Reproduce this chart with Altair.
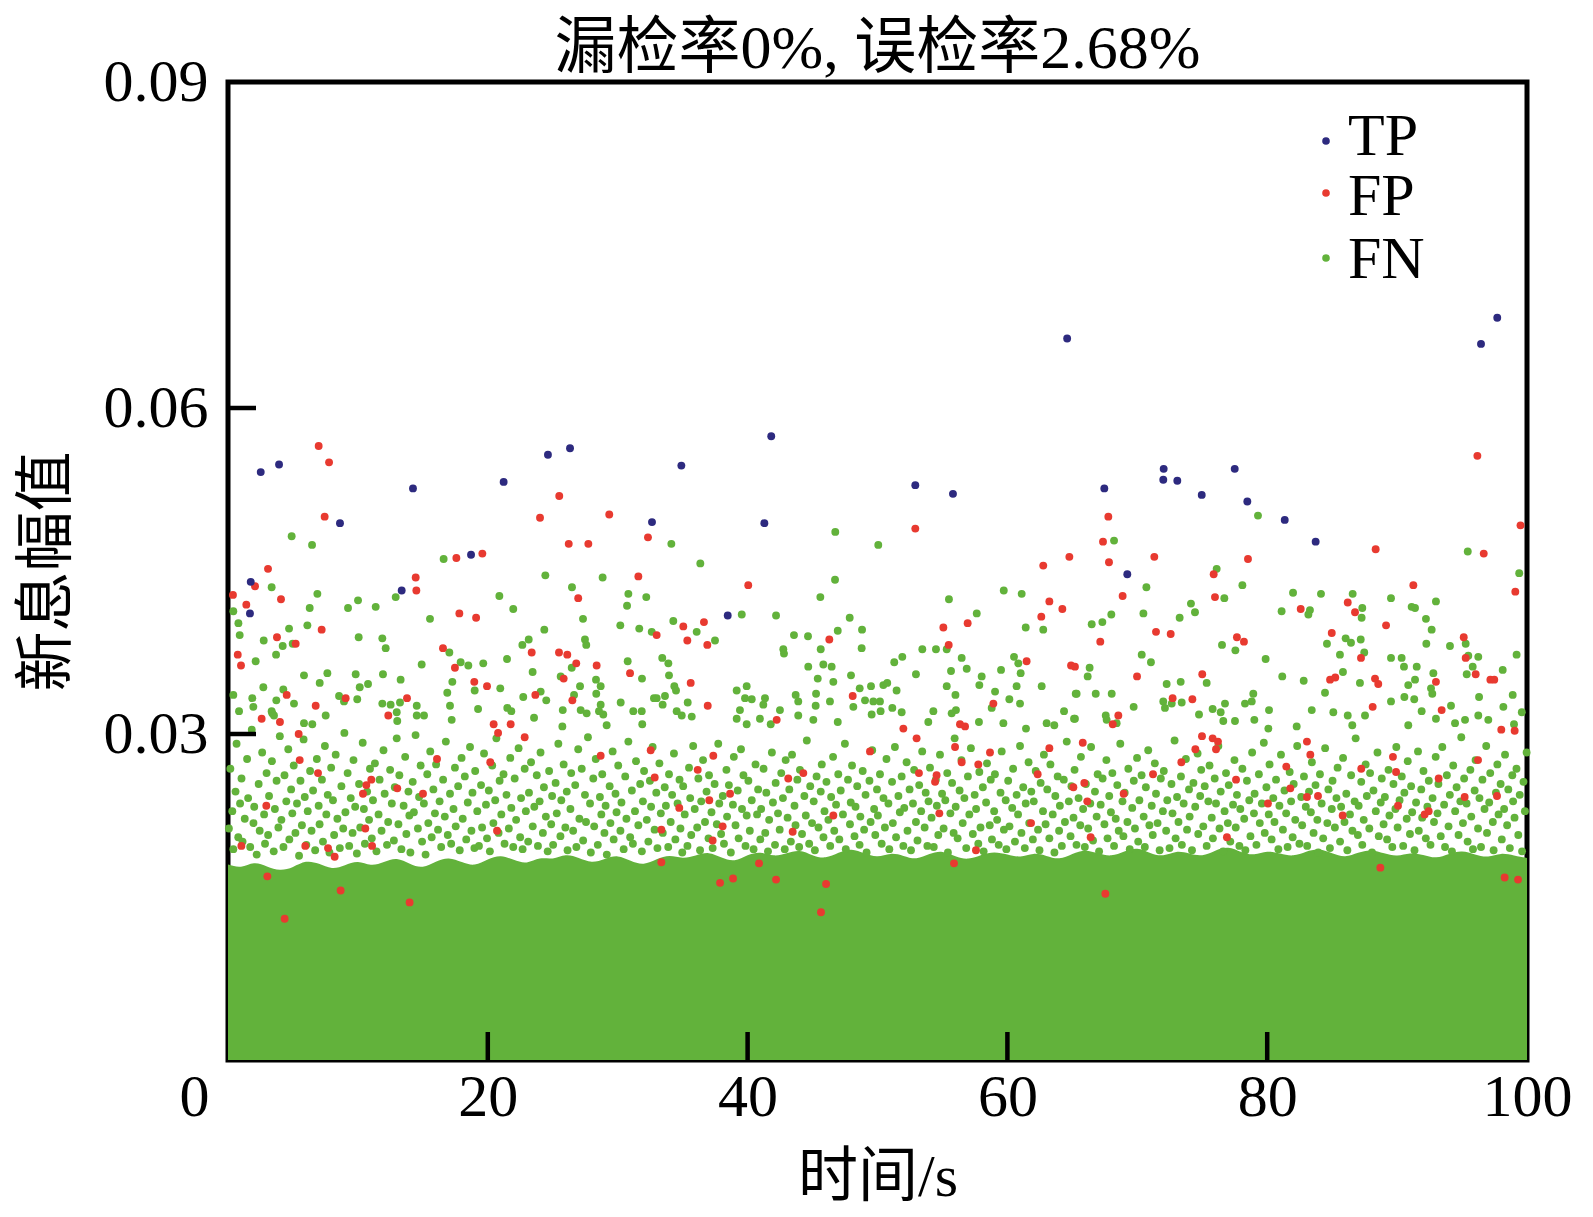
import altair as alt
import pandas as pd

# ---------------- data ----------------
title_text = "漏检率0%, 误检率2.68%"
x_title = "时间/s"
y_title = "新息幅值"
classes = ["TP", "FP", "FN"]
class_colors = ["#2d2a7f", "#e83a30", "#62b23b"]
x_tick_labels = [0, 20, 40, 60, 80, 100]
y_tick_labels = [0.03, 0.06, 0.09]
x_inner_ticks = [20, 40, 60, 80]
y_inner_ticks = [0.03, 0.06]

# TP points (time s, value)
tp_pts = [(2.52,.0541),(3.93,.0548),(14.24,.0526),(8.62,.0494),(21.22,.0532),(24.63,.0557),
          (26.33,.0563),(32.64,.0495),(18.71,.0465),(1.75,.0440),(13.37,.0432),(1.69,.0411),
          (41.82,.0574),(34.9,.0547),(41.29,.0494),(52.91,.0529),(55.81,.0521),(38.47,.0409),
          (97.71,.0683),(96.46,.0659),(72.03,.0544),(72.0,.0534),(73.08,.0533),(77.5,.0544),
          (67.46,.0526),(74.96,.0520),(78.47,.0514),(81.35,.0497),(83.73,.0477),(69.23,.0447),
          (64.6,.0664)]

# FP points
fp_a = [(6.98,.0565),(7.78,.0550),(7.44,.0500),(3.08,.0452),(2.08,.0436),(0.38,.0428),(1.41,.0419),
        (4.08,.0424),(7.21,.0396),(3.77,.0389),(5.21,.0383),(0.75,.0373),(1.0,.0363),(4.52,.0336),
        (6.75,.0326),(2.59,.0314),(4.0,.0311),(9.06,.0333),(14.45,.0444),(14.5,.0432),(17.58,.0462),
        (19.58,.0466),(17.81,.0411),(19.1,.0407),(16.55,.0379),(17.47,.0361),(18.96,.0348),(19.94,.0344),
        (13.78,.0333),(12.34,.0317),(20.45,.0309),(21.76,.0309),(25.5,.0519),(24.02,.0499),(29.35,.0502),
        (26.23,.0475),(27.74,.0475),(31.59,.0445),(32.33,.0481),(26.96,.0425),(23.38,.0375),(25.48,.0375),
        (26.12,.0373),(26.81,.0365),(28.38,.0363),(30.95,.0356),(25.84,.0351),(23.66,.0336),(26.51,.0331),
        (5.44,.0300),(5.52,.0276),(6.93,.0264),(11.03,.0258),(10.65,.0253),(10.39,.0245),(13.03,.0250),
        (15.01,.0245),(16.09,.0277),(20.19,.0274),(20.79,.0301),(22.84,.0297),(2.95,.0234),(10.57,.0213),
        (5.95,.0197),(7.7,.0195),(8.21,.0187),(1.03,.0197),(11.09,.0197),(3.03,.0169),(8.67,.0156),
        (13.98,.0145),(4.36,.0130),(28.69,.0280),(32.54,.0285),(32.85,.0260),(20.71,.0211),(33.36,.0212),
        (33.36,.0182)]
fp_b = [(52.91,.0489),(40.05,.0437),(62.76,.0455),(64.77,.0463),(63.23,.0422),(64.23,.0415),(62.61,.0408),
        (55.07,.0398),(56.94,.0402),(55.48,.0382),(35.05,.0399),(36.64,.0403),(35.36,.0386),(36.9,.0382),
        (33.0,.0391),(46.29,.0387),(35.62,.0347),(36.93,.0326),(48.09,.0335),(61.48,.0367),(64.9,.0363),
        (58.92,.0328),(42.24,.0313),(56.35,.0309),(51.99,.0305),
        (53.01,.0296),(56.74,.0307),(55.97,.0288),(58.66,.0283),(56.48,.0274),(57.76,.0272),(49.42,.0284),
        (37.36,.0280),(36.16,.0267),(43.13,.0259),(44.29,.0264),(53.19,.0264),(54.55,.0262),(54.43,.0256),
        (62.33,.0263),(63.23,.0287),(65.8,.0292),(65.08,.0251),(65.92,.0255),(66.15,.0238),(66.41,.0205),
        (37.05,.0239),(38.65,.0245),(34.74,.0232),(38.08,.0215),(37.31,.0202),(46.6,.0225),(43.47,.0210),
        (54.76,.0227),(61.82,.0218),(57.58,.0193),(55.89,.0181),(40.88,.0181),(38.88,.0167),(37.88,.0163),
        (42.19,.0166),(46.04,.0162),(45.65,.0136)]
fp_c = [(96.18,.0556),(67.77,.0500),(67.36,.0477),(67.82,.0458),(71.31,.0463),(78.52,.0461),(88.35,.0470),
        (96.67,.0466),(75.88,.0447),(68.87,.0427),(75.98,.0426),(91.25,.0437),(82.58,.0415),(86.2,.0421),
        (86.76,.0412),(89.15,.0400),(67.15,.0385),(71.44,.0394),(72.57,.0392),(77.67,.0389),(78.21,.0385),
        (84.97,.0393),(95.13,.0389),(87.22,.0370),(69.98,.0353),(75.0,.0355),(95.28,.0370),(96.05,.0355),
        (84.84,.0350),(85.24,.0352),(88.3,.0351),(88.55,.0346),(92.99,.0348),(97.18,.0350),(97.48,.0350),
        (88.12,.0325),(93.43,.0322),(74.24,.0332),(72.72,.0333),(68.54,.0317),(65.2,.0362),(99.5,.0492),
        (99.1,.0431),
        (68.11,.0309),(74.98,.0298),(75.8,.0296),(76.21,.0293),(74.47,.0286),(76.06,.0286),(73.39,.0274),
        (71.21,.0263),(68.95,.0245),(77.6,.0258),(81.47,.0270),(83.06,.0293),(83.32,.0281),(81.78,.0250),
        (83.06,.0242),(83.91,.0243),(80.06,.0236),(89.68,.0279),(89.92,.0265),(87.24,.0268),(90.07,.0234),
        (92.12,.0226),(92.43,.0229),(93.2,.0259),(95.2,.0242),(97.69,.0243),(96.23,.0276),(98.02,.0304),
        (99.05,.0303),(85.81,.0225),(76.9,.0205),(88.71,.0177),(98.28,.0168),(99.31,.0166),(67.54,.0153)]

# FN: sparse upper points
fn_top_a = [(4.90,.0482),(6.47,.0474),(3.36,.0435),(6.88,.0429),(6.29,.0416),(0.41,.0413),(0.80,.0402),
    (0.90,.0391),(4.70,.0397),(6.11,.0400),(2.75,.0386),(4.21,.0381),(4.98,.0383),(3.70,.0373),(2.13,.0367),
    (5.85,.0354),(7.65,.0356),(7.06,.0347),(2.72,.0343),(0.41,.0336),(1.87,.0333),(3.72,.0331),(5.08,.0328),
    (0.85,.0321),(1.95,.0325),(3.41,.0319),(4.26,.0341),(9.24,.0416),(10.01,.0423),(11.37,.0417),(12.91,.0426),
    (10.06,.0389),(11.88,.0388),(12.14,.0379),(15.55,.0406),(14.91,.0364),(13.29,.0350),(11.93,.0355),
    (9.83,.0355),(10.78,.0346),(10.14,.0343),(8.55,.0335),(8.93,.0330),(9.95,.0332),(11.88,.0328),
    (12.52,.0327),(13.24,.0329),(14.53,.0326),(15.09,.0317),(16.6,.0461),(17.04,.0375),(17.91,.0366),
    (18.5,.0363),(19.65,.0365),(17.27,.0348),(16.88,.0338),(18.99,.0340),(20.96,.0342),(17.09,.0326),
    (19.25,.0323),(17.22,.0313),(20.89,.0427),(21.96,.0415),(24.43,.0446),(26.48,.0435),(28.84,.0444),
    (30.82,.0429),(32.2,.0426),(30.72,.0418),(27.33,.0406),(24.35,.0396),(23.15,.0387),(22.66,.0382),
    (27.48,.0387),(27.58,.0382),(21.48,.0369),(30.2,.0400),(31.66,.0397),(32.62,.0394),(30.77,.0367),
    (31.87,.0351),(23.45,.0357),(25.61,.0353),(26.46,.0361),(27.1,.0344),(28.33,.0350),(28.69,.0344),
    (28.35,.0337),(22.73,.0334),(24.07,.0339),(24.5,.0331),(26.64,.0336),(30.23,.0329),(25.77,.0322),
    (27.15,.0322),(27.61,.0319),(28.69,.0327),(28.89,.0318),(28.56,.0321),(31.2,.0321),(31.85,.0321),
    (23.56,.0315),(21.5,.0324),(21.81,.0321),(31.89,.0309),(29.15,.0308),(25.74,.0307),(32.79,.0333),
    (12.99,.0320),(13.03,.0312),(14.53,.0317),(7.52,.0317),(5.85,.0310),(6.49,.0309),(3.36,.0321),(3.54,.0317)]
fn_top_b = [(34.13,.0475),(36.36,.0457),(46.75,.0486),(50.06,.0474),(46.73,.0442),(45.6,.0426),(55.5,.0424),
    (59.72,.0432),(61.1,.0429),(57.64,.0411),(61.41,.0398),(62.76,.0396),(39.55,.0410),(42.19,.0409),
    (47.86,.0407),(48.81,.0396),(46.94,.0395),(34.28,.0404),(36.08,.0394),(37.49,.0386),(43.57,.0391),
    (44.65,.0390),(45.63,.0378),(48.78,.0379),(42.75,.0378),(42.8,.0374),(53.45,.0378),(54.5,.0378),
    (55.33,.0378),(56.48,.0370),(56.87,.0360),(51.91,.0371),(51.29,.0366),(55.66,.0358),(52.96,.0355),
    (60.51,.0371),(60.84,.0365),(61.02,.0356),(59.51,.0359),(62.64,.0344),(58.02,.0353),(57.84,.0345),
    (55.33,.0344),(56.0,.0336),(59.05,.0339),(60.15,.0332),(60.71,.0344),(60.97,.0328),(65.26,.0337),
    (33.43,.0370),(33.9,.0365),(33.95,.0354),(34.36,.0344),(34.49,.0340),(33.0,.0333),(33.64,.0335),
    (33.46,.0327),(35.39,.0329),(34.54,.0321),(34.93,.0317),(35.7,.0316),(39.16,.0340),(39.93,.0344),
    (39.8,.0333),(40.32,.0332),(41.34,.0333),(41.21,.0327),(39.41,.0322),(39.16,.0314),(39.93,.0309),
    (40.95,.0314),(41.78,.0309),(42.49,.0322),(43.7,.0336),(43.9,.0330),(44.67,.0362),(45.83,.0364),
    (46.47,.0362),(45.4,.0351),(46.6,.0348),(45.27,.0337),(46.34,.0330),(45.24,.0326),(43.9,.0317),
    (45.06,.0313),(47.96,.0354),(48.63,.0342),(49.5,.0344),(50.45,.0345),(50.75,.0347),(51.47,.0340),
    (49.04,.0331),(49.68,.0330),(50.19,.0330),(48.14,.0325),(49.55,.0318),(50.24,.0321),(51.14,.0324),
    (51.86,.0320),(46.94,.0311),(54.3,.0321),(53.91,.0311),(56.04,.0322),(55.71,.0319),(57.81,.0311),
    (58.79,.0324),(59.69,.0310),(64.36,.0321),(65.13,.0314),(63.02,.0310),(63.61,.0308),(61.43,.0305)]
fn_top_c = [(79.29,.0501),(68.21,.0478),(95.44,.0468),(76.11,.0452),(78.09,.0437),(70.7,.0435),(76.7,.0425),
    (81.99,.0430),(84.14,.0429),(86.58,.0429),(89.53,.0425),(92.99,.0422),(91.12,.0417),(91.38,.0416),
    (87.32,.0416),(81.11,.0413),(83.29,.0414),(83.17,.0410),(74.13,.0420),(74.44,.0412),(68.0,.0410),
    (66.49,.0401),(67.31,.0403),(70.47,.0411),(73.26,.0407),(87.27,.0407),(92.22,.0406),(92.66,.0396),
    (92.25,.0383),(94.07,.0381),(95.28,.0383),(95.48,.0372),(96.25,.0371),(95.82,.0362),(95.36,.0355),
    (98.13,.0359),(91.51,.0362),(91.38,.0350),(90.86,.0345),(90.35,.0370),(90.53,.0362),(89.53,.0370),
    (92.79,.0356),(87.2,.0387),(87.47,.0375),(86.04,.0388),(86.45,.0384),(84.6,.0383),(85.6,.0373),
    (85.83,.0357),(87.14,.0347),(84.45,.0338),(82.81,.0349),(81.16,.0353),(79.88,.0369),(76.52,.0382),
    (77.55,.0377),(75.34,.0347),(70.34,.0373),(71.05,.0366),(66.33,.0361),(66.18,.0353),(65.33,.0337),
    (66.8,.0337),(68.03,.0337),(65.2,.0314),(67.57,.0317),(67.64,.0313),(68.41,.0310),(69.72,.0325),
    (72.26,.0346),(73.34,.0348),(72.0,.0330),(72.65,.0328),(73.42,.0329),(72.13,.0324),(74.75,.0318),
    (75.8,.0323),(76.42,.0320),(76.75,.0328),(78.29,.0328),(78.81,.0330),(78.93,.0337),(79.01,.0313),
    (77.52,.0312),(76.62,.0312),(80.14,.0322),(83.43,.0322),(85.09,.0320),(86.2,.0317),(87.53,.0317),
    (89.53,.0330),(90.56,.0334),(91.32,.0332),(91.89,.0321),(92.61,.0342),(92.71,.0337),(94.15,.0326),
    (94.46,.0310),(95.23,.0313),(96.31,.0334),(96.25,.0317),(97.02,.0313),(90.86,.0308),(92.99,.0314),
    (98.18,.0325),(86.55,.0308),(82.27,.0307),(80.09,.0305),(99.4,.0448),(99.2,.0373),(98.9,.0336),
    (99.6,.0320),(99.0,.0309)]

# FN: moderately dense middle zone (estimated, ~8 per second)
fn_mid_a = [
 (0.07,.0213),(0.18,.0268),(0.33,.0229),(0.41,.0194),(0.58,.0247),(0.66,.0291),(0.79,.0205),(0.93,.0236),
 (1.04,.0259),(1.12,.0201),(1.29,.0222),(1.47,.0277),(1.55,.0241),(1.71,.0196),(1.83,.0304),(1.96,.0218),
 (2.02,.0233),(2.21,.0189),(2.36,.0254),(2.44,.0211),(2.63,.0283),(2.78,.0226),(2.85,.0199),(2.97,.0264),
 (3.09,.0207),(3.16,.0243),(3.38,.0275),(3.52,.0192),(3.61,.0231),(3.74,.0257),(3.88,.0214),(3.99,.0298),
 (4.11,.0221),(4.27,.0196),(4.35,.0262),(4.49,.0238),(4.64,.0286),(4.72,.0203),(4.86,.0249),(4.95,.0227),
 (5.06,.0271),(5.19,.0209),(5.31,.0236),(5.47,.0188),(5.58,.0257),(5.69,.0216),(5.82,.0295),(5.91,.0242),
 (6.03,.0198),(6.14,.0229),(6.32,.0266),(6.43,.0211),(6.55,.0248),(6.71,.0193),(6.84,.0277),(6.98,.0234),
 (7.05,.0217),(7.23,.0258),(7.31,.0201),(7.46,.0289),(7.57,.0226),(7.68,.0244),(7.81,.0191),(7.94,.0269),
 (8.08,.0239),(8.17,.0207),(8.29,.0281),(8.42,.0222),(8.61,.0195),(8.73,.0252),(8.87,.0213),(8.96,.0301),
 (9.04,.0228),(9.21,.0264),(9.33,.0197),(9.45,.0241),(9.59,.0209),(9.66,.0276),(9.79,.0233),(9.92,.0190),
 (10.09,.0254),(10.18,.0214),(10.37,.0292),(10.46,.0231),(10.54,.0199),(10.71,.0247),(10.86,.0221),(10.93,.0268),
 (11.07,.0204),(11.16,.0239),(11.31,.0273),(11.43,.0192),(11.59,.0226),(11.67,.0258),(11.82,.0211),(11.97,.0285),
 (12.06,.0245),(12.24,.0198),(12.33,.0219),(12.48,.0267),(12.61,.0236),(12.77,.0202),(12.84,.0251),(12.99,.0296),
 (13.12,.0217),(13.19,.0262),(13.35,.0194),(13.52,.0234),(13.64,.0279),(13.73,.0208),(13.89,.0247),(13.96,.0225),
 (14.04,.0191),(14.22,.0256),(14.31,.0228),(14.44,.0299),(14.62,.0213),(14.71,.0242),(14.83,.0271),(14.94,.0201),
 (15.08,.0236),(15.21,.0189),(15.34,.0263),(15.42,.0218),(15.57,.0284),(15.68,.0205),(15.81,.0249),(15.93,.0227),
 (16.02,.0272),(16.17,.0212),(16.29,.0238),(16.41,.0196),(16.56,.0258),(16.69,.0224),(16.77,.0293),(16.92,.0207),
 (17.09,.0245),(17.18,.0199),(17.36,.0231),(17.47,.0269),(17.53,.0215),(17.72,.0252),(17.84,.0193),(17.98,.0278),
 (18.07,.0222),(18.23,.0261),(18.34,.0203),(18.46,.0237),(18.63,.0288),(18.74,.0211),(18.82,.0246),(18.97,.0195),
 (19.03,.0266),(19.19,.0229),(19.32,.0197),(19.48,.0253),(19.56,.0214),(19.71,.0282),(19.86,.0235),(19.94,.0204),
 (20.08,.0248),(20.16,.0192),(20.34,.0271),(20.43,.0218),(20.57,.0239),(20.66,.0296),(20.83,.0209),(20.91,.0257),
 (21.04,.0226),(21.21,.0263),(21.29,.0199),(21.44,.0244),(21.62,.0213),(21.73,.0278),(21.81,.0232),(21.96,.0196),
 (22.07,.0259),(22.18,.0221),(22.37,.0287),(22.49,.0205),(22.56,.0241),(22.68,.0194),(22.84,.0268),(22.93,.0229),
 (23.11,.0201),(23.17,.0246),(23.33,.0274),(23.46,.0215),(23.58,.0233),(23.77,.0262),(23.86,.0197),(23.99,.0238),
 (24.06,.0283),(24.24,.0209),(24.32,.0251),(24.47,.0224),(24.61,.0192),(24.72,.0266),(24.88,.0217),(24.95,.0243)]
fn_mid_b = [
 (25.03,.0198),(25.22,.0255),(25.31,.0227),(25.43,.0291),(25.59,.0206),(25.66,.0239),(25.84,.0272),(25.97,.0214),
 (26.08,.0247),(26.14,.0193),(26.36,.0231),(26.42,.0264),(26.57,.0211),(26.73,.0253),(26.82,.0196),(26.96,.0286),
 (27.05,.0222),(27.23,.0268),(27.34,.0202),(27.48,.0244),(27.56,.0219),(27.71,.0297),(27.87,.0236),(27.93,.0191),
 (28.12,.0259),(28.19,.0215),(28.31,.0277),(28.47,.0198),(28.63,.0242),(28.74,.0226),(28.81,.0263),(28.98,.0209),
 (29.07,.0234),(29.16,.0189),(29.38,.0252),(29.44,.0218),(29.61,.0284),(29.69,.0203),(29.83,.0245),(29.91,.0228),
 (30.04,.0271),(30.21,.0211),(30.29,.0237),(30.46,.0194),(30.58,.0261),(30.67,.0222),(30.82,.0293),(30.96,.0205),
 (31.09,.0248),(31.17,.0199),(31.33,.0229),(31.41,.0275),(31.59,.0216),(31.73,.0254),(31.86,.0192),(31.94,.0238),
 (32.03,.0266),(32.24,.0221),(32.36,.0201),(32.48,.0257),(32.57,.0233),(32.69,.0288),(32.84,.0212),(32.97,.0246),
 (33.06,.0195),(33.21,.0273),(33.32,.0227),(33.47,.0209),(33.62,.0251),(33.71,.0234),(33.89,.0196),(33.95,.0263),
 (34.08,.0219),(34.19,.0244),(34.33,.0282),(34.44,.0203),(34.61,.0236),(34.76,.0258),(34.83,.0213),(34.97,.0191),
 (35.04,.0252),(35.16,.0226),(35.37,.0197),(35.49,.0269),(35.58,.0241),(35.66,.0207),(35.81,.0289),(35.93,.0231),
 (36.12,.0214),(36.21,.0259),(36.34,.0193),(36.43,.0238),(36.57,.0276),(36.72,.0219),(36.84,.0247),(36.99,.0204),
 (37.03,.0262),(37.22,.0228),(37.31,.0195),(37.46,.0254),(37.63,.0217),(37.74,.0291),(37.82,.0236),(37.96,.0208),
 (38.09,.0243),(38.18,.0199),(38.37,.0267),(38.42,.0224),(38.56,.0253),(38.71,.0191),(38.87,.0235),(38.94,.0279),
 (39.07,.0216),(39.24,.0248),(39.31,.0204),(39.49,.0286),(39.57,.0231),(39.68,.0262),(39.84,.0197),(39.93,.0225),
 (40.06,.0257),(40.17,.0211),(40.32,.0239),(40.46,.0194),(40.61,.0272),(40.73,.0226),(40.81,.0249),(40.98,.0203),
 (41.04,.0231),(41.23,.0268),(41.36,.0209),(41.44,.0246),(41.57,.0192),(41.66,.0221),(41.87,.0283),(41.95,.0237),
 (42.11,.0198),(42.16,.0255),(42.34,.0227),(42.47,.0212),(42.59,.0264),(42.72,.0241),(42.86,.0194),(42.93,.0276),
 (43.08,.0223),(43.21,.0249),(43.33,.0201),(43.42,.0281),(43.61,.0234),(43.69,.0216),(43.83,.0258),(43.97,.0196),
 (44.03,.0267),(44.19,.0208),(44.37,.0243),(44.48,.0225),(44.56,.0294),(44.74,.0199),(44.82,.0252),(44.96,.0218),
 (45.09,.0238),(45.18,.0193),(45.31,.0261),(45.46,.0214),(45.63,.0247),(45.71,.0272),(45.84,.0205),(45.92,.0229),
 (46.07,.0256),(46.22,.0221),(46.36,.0197),(46.43,.0242),(46.58,.0279),(46.67,.0211),(46.81,.0235),(46.98,.0263),
 (47.06,.0203),(47.17,.0248),(47.34,.0226),(47.49,.0291),(47.56,.0194),(47.73,.0258),(47.88,.0217),(47.94,.0237),
 (48.04,.0271),(48.23,.0206),(48.31,.0233),(48.44,.0252),(48.62,.0198),(48.68,.0224),(48.86,.0266),(48.97,.0212),
 (49.08,.0244),(49.16,.0191),(49.38,.0257),(49.47,.0219),(49.59,.0285),(49.74,.0231),(49.83,.0207),(49.96,.0249)]
fn_mid_c = [
 (50.03,.0225),(50.19,.0263),(50.32,.0199),(50.46,.0241),(50.57,.0214),(50.69,.0277),(50.84,.0236),(50.91,.0194),
 (51.12,.0256),(51.18,.0218),(51.34,.0288),(51.43,.0205),(51.61,.0243),(51.72,.0228),(51.86,.0261),(51.99,.0197),
 (52.06,.0232),(52.24,.0274),(52.31,.0211),(52.47,.0249),(52.58,.0193),(52.73,.0236),(52.82,.0267),(52.96,.0219),
 (53.08,.0202),(53.21,.0253),(53.36,.0229),(53.44,.0284),(53.63,.0214),(53.71,.0246),(53.84,.0197),(53.93,.0238),
 (54.04,.0269),(54.16,.0223),(54.33,.0196),(54.49,.0258),(54.57,.0234),(54.68,.0207),(54.81,.0281),(54.97,.0245),
 (55.09,.0213),(55.22,.0239),(55.37,.0264),(55.42,.0191),(55.61,.0227),(55.74,.0255),(55.86,.0209),(55.94,.0296),
 (56.02,.0233),(56.17,.0204),(56.32,.0248),(56.46,.0276),(56.56,.0218),(56.69,.0241),(56.83,.0195),(56.96,.0261),
 (57.07,.0226),(57.19,.0287),(57.34,.0208),(57.48,.0244),(57.59,.0231),(57.76,.0199),(57.84,.0265),(57.93,.0214),
 (58.11,.0251),(58.17,.0192),(58.36,.0237),(58.43,.0273),(58.64,.0216),(58.72,.0258),(58.81,.0203),(58.98,.0229),
 (59.04,.0263),(59.21,.0221),(59.33,.0198),(59.47,.0246),(59.56,.0284),(59.73,.0212),(59.87,.0239),(59.92,.0194),
 (60.06,.0257),(60.16,.0215),(60.37,.0232),(60.44,.0268),(60.58,.0201),(60.71,.0244),(60.82,.0226),(60.97,.0289),
 (61.08,.0209),(61.22,.0251),(61.34,.0195),(61.41,.0236),(61.63,.0274),(61.68,.0218),(61.84,.0247),(61.96,.0203),
 (62.03,.0238),(62.18,.0266),(62.36,.0212),(62.47,.0193),(62.56,.0255),(62.74,.0229),(62.81,.0281),(62.94,.0217),
 (63.07,.0249),(63.23,.0204),(63.31,.0272),(63.49,.0226),(63.62,.0191),(63.69,.0243),(63.87,.0261),(63.98,.0211),
 (64.04,.0234),(64.19,.0197),(64.34,.0258),(64.43,.0219),(64.57,.0293),(64.73,.0238),(64.86,.0206),(64.93,.0252),
 (65.09,.0223),(65.17,.0267),(65.32,.0198),(65.48,.0241),(65.61,.0216),(65.66,.0279),(65.83,.0231),(65.96,.0196),
 (66.04,.0254),(66.22,.0213),(66.38,.0236),(66.44,.0288),(66.59,.0202),(66.74,.0247),(66.87,.0224),(66.95,.0263),
 (67.06,.0192),(67.18,.0235),(67.33,.0259),(67.47,.0217),(67.62,.0276),(67.71,.0204),(67.84,.0243),(67.97,.0228),
 (68.08,.0264),(68.21,.0197),(68.34,.0222),(68.46,.0253),(68.57,.0211),(68.69,.0291),(68.86,.0238),(68.93,.0206),
 (69.03,.0246),(69.24,.0219),(69.31,.0268),(69.42,.0194),(69.61,.0232),(69.73,.0257),(69.82,.0213),(69.98,.0278),
 (70.07,.0201),(70.16,.0239),(70.33,.0262),(70.49,.0224),(70.58,.0196),(70.66,.0251),(70.84,.0285),(70.93,.0216),
 (71.11,.0234),(71.19,.0207),(71.35,.0273),(71.44,.0245),(71.56,.0218),(71.72,.0193),(71.81,.0259),(71.97,.0229),
 (72.04,.0266),(72.22,.0211),(72.31,.0239),(72.48,.0195),(72.63,.0254),(72.71,.0227),(72.87,.0294),(72.95,.0204),
 (73.06,.0242),(73.17,.0219),(73.36,.0261),(73.43,.0198),(73.57,.0236),(73.74,.0277),(73.83,.0212),(73.98,.0249),
 (74.03,.0224),(74.21,.0193),(74.32,.0255),(74.46,.0233),(74.64,.0282),(74.69,.0208),(74.84,.0243),(74.92,.0267)]
fn_mid_d = [
 (75.08,.0215),(75.19,.0252),(75.34,.0197),(75.47,.0238),(75.56,.0271),(75.73,.0223),(75.82,.0204),(75.96,.0259),
 (76.06,.0236),(76.24,.0289),(76.33,.0213),(76.42,.0247),(76.61,.0192),(76.72,.0229),(76.83,.0264),(76.97,.0218),
 (77.04,.0253),(77.16,.0201),(77.37,.0235),(77.48,.0276),(77.58,.0214),(77.67,.0244),(77.86,.0197),(77.93,.0231),
 (78.09,.0268),(78.23,.0222),(78.32,.0193),(78.44,.0257),(78.62,.0239),(78.71,.0206),(78.84,.0283),(78.98,.0227),
 (79.03,.0245),(79.17,.0198),(79.36,.0263),(79.43,.0218),(79.59,.0236),(79.74,.0292),(79.81,.0209),(79.94,.0251),
 (80.12,.0226),(80.18,.0272),(80.34,.0203),(80.47,.0241),(80.56,.0219),(80.68,.0258),(80.86,.0194),(80.94,.0234),
 (81.06,.0281),(81.21,.0212),(81.33,.0248),(81.46,.0227),(81.57,.0196),(81.73,.0265),(81.84,.0238),(81.96,.0205),
 (82.04,.0254),(82.16,.0221),(82.31,.0289),(82.48,.0199),(82.62,.0242),(82.69,.0216),(82.83,.0261),(82.97,.0233),
 (83.08,.0197),(83.22,.0247),(83.36,.0228),(83.44,.0274),(83.57,.0209),(83.72,.0253),(83.86,.0221),(83.93,.0191),
 (84.06,.0263),(84.19,.0236),(84.31,.0204),(84.46,.0287),(84.63,.0218),(84.71,.0249),(84.83,.0195),(84.97,.0231),
 (85.03,.0257),(85.21,.0214),(85.33,.0241),(85.42,.0269),(85.61,.0201),(85.69,.0233),(85.84,.0278),(85.95,.0219),
 (86.09,.0245),(86.17,.0193),(86.37,.0226),(86.46,.0262),(86.56,.0211),(86.73,.0238),(86.81,.0296),(86.98,.0207),
 (87.04,.0234),(87.24,.0256),(87.32,.0198),(87.43,.0221),(87.58,.0272),(87.67,.0243),(87.86,.0213),(87.92,.0264),
 (88.07,.0191),(88.18,.0248),(88.36,.0229),(88.49,.0283),(88.59,.0206),(88.74,.0237),(88.82,.0259),(88.96,.0217),
 (89.06,.0242),(89.23,.0203),(89.34,.0267),(89.41,.0225),(89.63,.0196),(89.72,.0254),(89.87,.0231),(89.94,.0288),
 (90.04,.0214),(90.19,.0239),(90.36,.0261),(90.47,.0197),(90.56,.0246),(90.74,.0222),(90.82,.0275),(90.99,.0208),
 (91.08,.0252),(91.16,.0228),(91.34,.0193),(91.46,.0237),(91.61,.0284),(91.67,.0211),(91.86,.0249),(91.93,.0223),
 (92.03,.0266),(92.21,.0204),(92.33,.0233),(92.44,.0257),(92.57,.0198),(92.73,.0241),(92.84,.0219),(92.97,.0279),
 (93.11,.0227),(93.18,.0254),(93.36,.0206),(93.48,.0288),(93.62,.0235),(93.69,.0196),(93.83,.0262),(93.96,.0215),
 (94.06,.0244),(94.22,.0192),(94.32,.0271),(94.47,.0229),(94.58,.0251),(94.73,.0207),(94.87,.0238),(94.94,.0297),
 (95.07,.0218),(95.16,.0259),(95.35,.0236),(95.43,.0201),(95.64,.0267),(95.71,.0224),(95.84,.0194),(95.97,.0248),
 (96.04,.0276),(96.23,.0213),(96.34,.0241),(96.46,.0196),(96.57,.0258),(96.73,.0231),(96.86,.0289),(96.92,.0209),
 (97.09,.0237),(97.17,.0264),(97.37,.0219),(97.43,.0193),(97.61,.0246),(97.72,.0272),(97.81,.0226),(97.97,.0254),
 (98.06,.0203),(98.24,.0231),(98.31,.0281),(98.47,.0216),(98.56,.0249),(98.68,.0195),(98.87,.0262),(98.93,.0238),
 (99.04,.0223),(99.19,.0268),(99.33,.0207),(99.44,.0244),(99.62,.0192),(99.73,.0256),(99.84,.0229),(99.97,.0283)]

# FN: upper edge of the saturated (fully covered) zone, one value per second 0..100
band_sec = list(range(0, 101))
band_top = [0.0180,0.0176,0.0183,0.0178,0.0174,0.0177,0.0184,0.0181,0.0175,0.0179,
            0.0184,0.0178,0.0182,0.0187,0.0180,0.0176,0.0183,0.0187,0.0182,0.0178,
            0.0185,0.0189,0.0184,0.0180,0.0187,0.0184,0.0190,0.0186,0.0181,0.0185,
            0.0189,0.0183,0.0179,0.0185,0.0189,0.0185,0.0188,0.0192,0.0186,0.0182,
            0.0189,0.0192,0.0187,0.0190,0.0194,0.0188,0.0185,0.0191,0.0195,0.0190,
            0.0186,0.0191,0.0188,0.0184,0.0190,0.0193,0.0187,0.0184,0.0189,0.0192,
            0.0189,0.0186,0.0191,0.0188,0.0184,0.0190,0.0194,0.0190,0.0187,0.0192,
            0.0196,0.0190,0.0187,0.0193,0.0190,0.0187,0.0193,0.0197,0.0191,0.0188,
            0.0193,0.0190,0.0187,0.0192,0.0195,0.0190,0.0186,0.0191,0.0194,0.0190,
            0.0187,0.0191,0.0189,0.0185,0.0190,0.0193,0.0189,0.0186,0.0191,0.0188,0.0186]

# ---------------- build tables ----------------
def frame(pairs, cls):
    d = pd.DataFrame(pairs, columns=["t", "v"])
    d["cls"] = cls
    return d

pts = pd.concat([
    frame(fn_mid_a + fn_mid_b + fn_mid_c + fn_mid_d, "FN"),
    frame(fn_top_a + fn_top_b + fn_top_c, "FN"),
    frame(fp_a + fp_b + fp_c, "FP"),
    frame(tp_pts, "TP"),
], ignore_index=True)
pts["i"] = range(len(pts))

band = pd.DataFrame({"t": band_sec, "v": band_top})
xt = pd.DataFrame({"t": x_inner_ticks})
yt = pd.DataFrame({"v": y_inner_ticks})
tt = pd.DataFrame({"s": [title_text]})

SERIF = "Liberation Serif"
MIXED = "Liberation Serif, Noto Sans CJK SC"
W, H = 1299, 978

xs = alt.Scale(domain=[0, 100], nice=False, zero=False)
ys = alt.Scale(domain=[0, 0.09], nice=False)
cs = alt.Scale(domain=classes, range=class_colors)

xaxis = alt.Axis(values=x_tick_labels, ticks=False, domain=False, grid=False, labelFlush=False,
                 labelFont=SERIF, labelFontSize=60, labelColor="black", labelPadding=8,
                 labelOffset={"condition": {"test": "datum.value == 0", "value": -34}, "value": 0},
                 title=x_title, titleFont=MIXED, titleFontSize=60, titleFontWeight="normal",
                 titleColor="black", titleX=W / 2, titleY=117, titleAlign="center",
                 titleBaseline="middle")
yaxis = alt.Axis(values=y_tick_labels, format=".2f", ticks=False, domain=False, grid=False,
                 labelFont=SERIF, labelFontSize=60, labelColor="black", labelPadding=20,
                 title=y_title, titleFont=MIXED, titleFontSize=60, titleFontWeight="normal",
                 titleColor="black", titleAngle=270, titleX=-181, titleY=H / 2,
                 titleAlign="center", titleBaseline="middle")

X = alt.X("t:Q", scale=xs, axis=xaxis)
Y = alt.Y("v:Q", scale=ys, axis=yaxis)

band_layer = alt.Chart(band).mark_area(color=class_colors[2], interpolate="basis", clip=True).encode(
    x=X, y=Y)

pt_layer = alt.Chart(pts).mark_circle(size=62, opacity=1).encode(
    x=X, y=Y,
    color=alt.Color("cls:N", scale=cs, legend=None),
    order=alt.Order("i:Q"),
)

xtick_layer = alt.Chart(xt).mark_rule(color="black", strokeWidth=4.5).encode(
    x=X, y=alt.value(H), y2=alt.value(H - 28))
ytick_layer = alt.Chart(yt).mark_rule(color="black", strokeWidth=4.5).encode(
    y=Y, x=alt.value(0), x2=alt.value(28))

title_layer = alt.Chart(tt).mark_text(font=MIXED, fontSize=62, color="black", align="center",
                                      baseline="alphabetic").encode(
    text="s:N", x=alt.value(W / 2), y=alt.value(-14))

# legend drawn inside the plot, top right
legend_dot_y = [59, 111, 176]
legend_txt_y = [73, 133, 196]
legend_layers = []
for c, dy, ty in zip(classes, legend_dot_y, legend_txt_y):
    ld = pd.DataFrame({"cls": [c]})
    legend_layers.append(alt.Chart(ld).mark_circle(size=58, opacity=1).encode(
        color=alt.Color("cls:N", scale=cs, legend=None), x=alt.value(1098), y=alt.value(dy)))
    legend_layers.append(alt.Chart(ld).mark_text(font=SERIF, fontSize=60, color="black",
                                                 align="left", baseline="alphabetic").encode(
        text="cls:N", x=alt.value(1120), y=alt.value(ty)))

chart = alt.layer(band_layer, pt_layer, xtick_layer, ytick_layer, title_layer, *legend_layers).properties(
    width=W, height=H,
    autosize=alt.AutoSizeParams(type="none"),
    padding={"left": 220, "top": 74, "right": 58, "bottom": 147},
).configure(background="white").configure_view(stroke="black", strokeWidth=5)

chart.save("out.html", embed_options={"renderer": "svg", "actions": False})
